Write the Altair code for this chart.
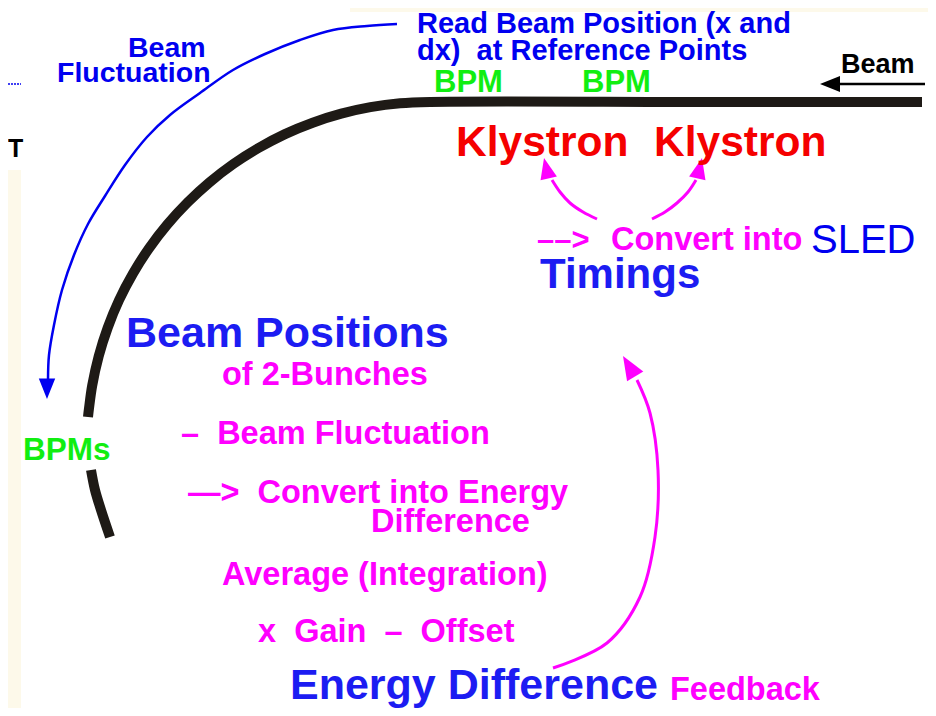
import altair as alt
import pandas as pd

# ---- colours ----
BLUE = "#0000f0"
BLUE2 = "#1c1cf2"
MAGENTA = "#ff00ff"
GREEN = "#11ee11"
RED = "#f50000"
BLACK = "#000000"
TRACK = "#1e1a16"
CREAM = "#fdf9ea"

# ---- beam line (track), two segments separated by the "BPMs" label ----
track_a_x = [922, 700, 430, 400.1, 370.4, 341.2, 312.7, 285.0, 258.5, 233.3, 209.5,
             187.5, 167.3, 149.0, 133.0, 119.1, 107.7, 98.7, 92.2, 88.9, 88.0]
track_a_y = [102, 102, 102, 103.3, 107.2, 113.7, 122.7, 134.1, 148.0, 164.0, 182.3,
             202.5, 224.5, 248.3, 273.5, 300.0, 327.7, 356.2, 385.5, 409.2, 417.0]
track_b_x = [91, 95, 101, 110]
track_b_y = [470, 490, 510, 537]

# ---- blue "Beam Fluctuation" arrow ----
blue_x = [397, 367, 333, 300, 265, 233, 200, 170, 147, 125, 105, 88, 74, 62, 54, 49, 48]
blue_y = [24, 26, 30, 40, 54, 70, 93, 115, 137, 165, 196, 224, 255, 290, 325, 355, 380]

# ---- magenta feedback arrow ----
fb_x = [553, 607, 640, 655, 658, 650, 637]
fb_y = [668, 643, 597, 537, 470, 413, 380]

# ---- magenta arrows to the klystrons ----
kl_l_x = [597, 583, 570, 560, 552]
kl_l_y = [219, 212, 203, 192, 180]
kl_r_x = [652, 665, 677, 688, 696]
kl_r_y = [219, 212, 203, 192, 180]

# ---- black "Beam" arrow ----
beam_x = [925, 835]
beam_y = [84, 84]

# ---- arrow heads: tip position, direction angle ----
head_x = [47, 623, 544, 702, 820]
head_y = [399, 356, 158, 158, 84]
head_angle = [0, 149, 167, 193, 90]
head_color = [BLUE, MAGENTA, MAGENTA, MAGENTA, BLACK]
head_size = [420, 560, 440, 440, 400]

# ---- text labels ----
labels = [
    "Beam", "Fluctuation",
    "Read Beam Position (x and", "dx)\u00a0 at Reference Points",
    "BPM", "BPM", "Beam",
    "Klystron", "Klystron",
    "\u2013\u2013>", "Convert into",
    "Timings",
    "Beam Positions", "of 2-Bunches",
    "\u2013\u00a0 Beam Fluctuation",
    "\u2014>\u00a0 Convert into Energy", "Difference",
    "Average (Integration)", "x\u00a0 Gain\u00a0 \u2013\u00a0 Offset",
    "Energy Difference", "Feedback",
    "BPMs", "T",
]
label_x = [128, 57, 417, 417, 434, 582, 841, 456, 654, 537, 611, 540,
           126, 222, 181, 188, 371, 222, 258, 290, 670, 23, 8]
label_y = [57, 82, 33, 60, 92, 92, 73, 156, 156, 250, 250, 288,
           347, 385, 444, 503, 532, 585, 642, 699, 700, 460, 157]
label_color = [BLUE, BLUE, BLUE, BLUE, GREEN, GREEN, BLACK, RED, RED,
               MAGENTA, MAGENTA, BLUE2, BLUE2, MAGENTA, MAGENTA, MAGENTA,
               MAGENTA, MAGENTA, MAGENTA, BLUE2, MAGENTA, GREEN, BLACK]
label_size = [28.5, 28.5, 29, 29, 31, 31, 27, 42.5, 42.5, 31, 32.5, 42,
              43, 32.5, 32.5, 32.5, 32.5, 32.5, 32.5, 43, 32.5, 31.5, 25]

sled_label = ["SLED"]
sled_x = [811]
sled_y = [253]

# ---- background panels ----
panel_x = [8, 350]
panel_x2 = [21, 928]
panel_y = [170, 8]
panel_y2 = [708, 12]

FONT = "Liberation Sans"

xs = alt.Scale(domain=[8, 928], nice=False, zero=False)
ys = alt.Scale(domain=[708, 8], nice=False, zero=False)


def X(f="x"):
    return alt.X(f"{f}:Q", scale=xs, axis=None)


def Y(f="y"):
    return alt.Y(f"{f}:Q", scale=ys, axis=None)


def curve(xv, yv, seg=0):
    return pd.DataFrame({"x": xv, "y": yv, "i": list(range(len(xv))), "seg": seg})


panels = alt.Chart(pd.DataFrame({"x": panel_x, "x2": panel_x2, "y": panel_y, "y2": panel_y2})).mark_rect(
    color=CREAM
).encode(x=X(), x2="x2:Q", y=Y(), y2="y2:Q")

frag = alt.Chart(pd.DataFrame({"x": [8], "x2": [21], "y": [84]})).mark_rule(
    color=BLUE, strokeWidth=1.5, strokeDash=[2, 1]
).encode(x=X(), x2="x2:Q", y=Y())

track_df = pd.concat([curve(track_a_x, track_a_y, 0), curve(track_b_x, track_b_y, 1)])
track = alt.Chart(track_df).mark_line(
    color=TRACK, strokeWidth=10, interpolate="catmull-rom", strokeCap="butt"
).encode(x=X(), y=Y(), detail="seg:N", order="i:Q")

blue_line = alt.Chart(curve(blue_x, blue_y)).mark_line(
    color=BLUE, strokeWidth=2.5, interpolate="catmull-rom"
).encode(x=X(), y=Y(), order="i:Q")

pink_df = pd.concat([curve(fb_x, fb_y, 0), curve(kl_l_x, kl_l_y, 1), curve(kl_r_x, kl_r_y, 2)])
pink_lines = alt.Chart(pink_df).mark_line(
    color=MAGENTA, strokeWidth=3, interpolate="catmull-rom"
).encode(x=X(), y=Y(), detail="seg:N", order="i:Q")

beam_line = alt.Chart(curve(beam_x, beam_y)).mark_line(
    color=BLACK, strokeWidth=2.5
).encode(x=X(), y=Y(), order="i:Q")

heads = alt.Chart(pd.DataFrame({"x": head_x, "y": head_y, "a": head_angle,
                                "c": head_color, "s": head_size})).mark_point(
    shape="M0,0 L-0.8,-2 L0.8,-2 Z", filled=True, opacity=1, strokeWidth=0
).encode(
    x=X(), y=Y(),
    angle=alt.Angle("a:Q", scale=None),
    color=alt.Color("c:N", scale=None),
    size=alt.Size("s:Q", scale=None),
)

text_df = pd.DataFrame({"t": labels, "x": label_x, "y": label_y, "c": label_color, "s": label_size})
texts = alt.Chart(text_df).mark_text(
    font=FONT, fontWeight="bold", align="left", baseline="alphabetic"
).encode(
    x=X(), y=Y(), text="t:N",
    color=alt.Color("c:N", scale=None),
    size=alt.Size("s:Q", scale=None),
)

sled = alt.Chart(pd.DataFrame({"t": sled_label, "x": sled_x, "y": sled_y})).mark_text(
    font=FONT, fontWeight="normal", align="left", baseline="alphabetic",
    fontSize=40, color=BLUE
).encode(x=X(), y=Y(), text="t:N")

chart = alt.layer(
    panels, frag, track, blue_line, pink_lines, beam_line, heads, texts, sled
).properties(
    width=920, height=700,
    autosize=alt.AutoSizeParams(type="none"),
    padding=0,
    background="white",
).configure_view(strokeWidth=0)

chart.save("out.html", embed_options={"renderer": "svg", "actions": False})
